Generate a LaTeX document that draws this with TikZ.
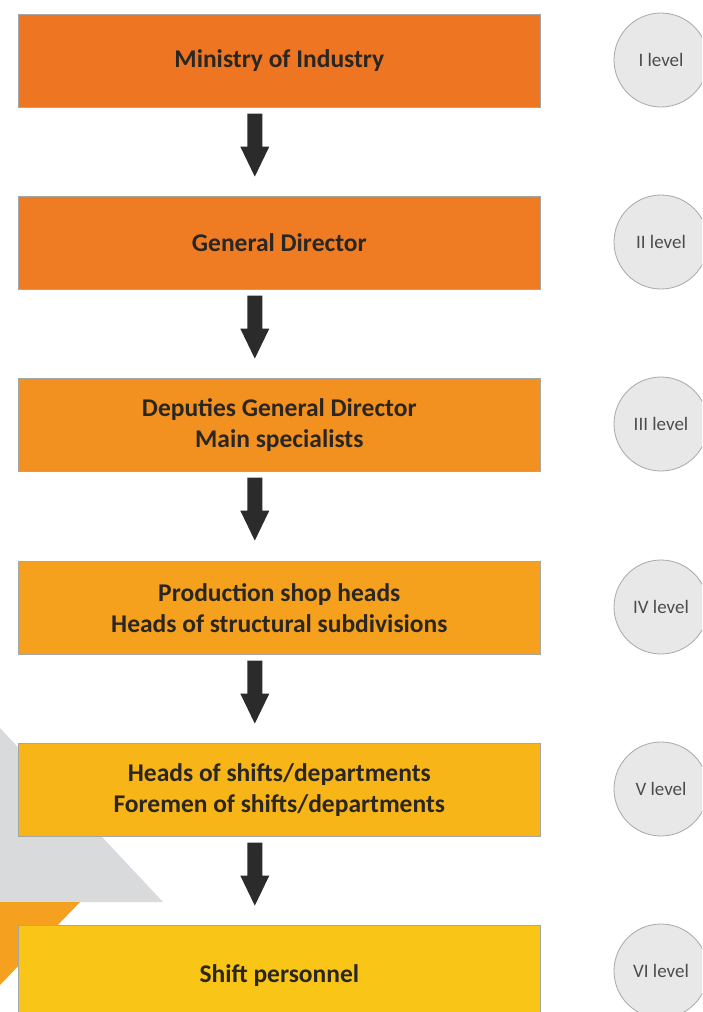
\documentclass[tikz,border=0pt]{standalone}
\usepackage{fontspec}
\setmainfont{Carlito}
\definecolor{cA}{HTML}{EE7623}
\definecolor{cB}{HTML}{EF7C22}
\definecolor{cC}{HTML}{F29020}
\definecolor{cD}{HTML}{F5A11E}
\definecolor{cE}{HTML}{F7B517}
\definecolor{cF}{HTML}{F9C516}
\definecolor{txt}{HTML}{2A2622}
\definecolor{circfill}{HTML}{E8E8E8}
\definecolor{circline}{HTML}{A8A8A8}
\definecolor{bggray}{HTML}{D9DADC}
\definecolor{bgorange}{HTML}{F5A01F}
\definecolor{arrowc}{HTML}{2B2B2B}
\tikzset{
  levelbox/.style={draw=black!35, line width=0.6pt, minimum width=522pt, minimum height=93pt,
    inner sep=0pt, align=center, text=txt, font=\fontsize{25.5}{31}\selectfont\bfseries, anchor=north west},
  levelcirc/.style={circle, draw=circline, fill=circfill, line width=0.8pt, minimum size=94pt,
    inner sep=0pt, text=black!70, font=\fontsize{19}{21}\selectfont},
  downarrow/.style={fill=arrowc, draw=none}
}
\begin{document}
\begin{tikzpicture}[x=1pt,y=-1pt]
\useasboundingbox (0,0) rectangle (702,1012);
\begin{scope}
\clip (0,0) rectangle (702,1012);
% background shapes
\fill[bggray] (0,728) -- (163,902) -- (0,902) -- cycle;
\fill[bgorange] (0,902) -- (80,902) -- (0,985) -- cycle;
% boxes
\node[levelbox, fill=cA] (b1) at (18,14) {Ministry of Industry};
\node[levelbox, fill=cB] (b2) at (18,196) {General Director};
\node[levelbox, fill=cC] (b3) at (18,378) {Deputies General Director\\Main specialists};
\node[levelbox, fill=cD] (b4) at (18,561) {Production shop heads\\Heads of structural subdivisions};
\node[levelbox, fill=cE] (b5) at (18,743) {Heads of shifts/departments\\Foremen of shifts/departments};
\node[levelbox, fill=cF, minimum height=100pt] (b6) at (18,925) {\raisebox{4pt}{Shift personnel}};
% circles
\node[levelcirc] (c1) at (661,60) {I level};
\node[levelcirc] (c2) at (661,242) {II level};
\node[levelcirc] (c3) at (661,424) {III level};
\node[levelcirc] (c4) at (661,607) {IV level};
\node[levelcirc] (c5) at (661,789) {V level};
\node[levelcirc] (c6) at (661,971) {VI level};
% arrows
\foreach \a/\b in {b1/b2,b2/b3,b3/b4,b4/b5,b5/b6}{
  \fill[downarrow] ([xshift=-32pt,yshift=-6pt]\a.south)
     -- ++(15,0) -- ++(0,33) -- ++(7,0) -- ++(-14.5,30) -- ++(-14.5,-30) -- ++(7,0) -- cycle;
}
\end{scope}
\end{tikzpicture}
\end{document}
